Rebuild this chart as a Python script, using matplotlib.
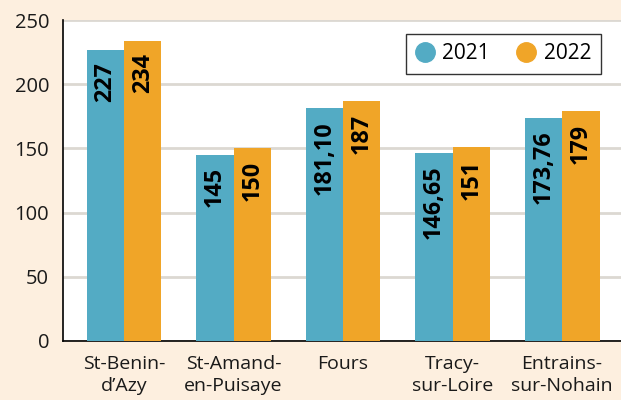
import numpy as np
import matplotlib.pyplot as plt
from matplotlib.lines import Line2D

communes = ["St-Benin-\nd\u2019Azy", "St-Amand-\nen-Puisaye", "Fours", "Tracy-\nsur-Loire", "Entrains-\nsur-Nohain"]
v2021 = [227, 145, 181.10, 146.65, 173.76]
v2022 = [234, 150, 187, 151, 179]
lab2021 = ["227", "145", "181,10", "146,65", "173,76"]
lab2022 = ["234", "150", "187", "151", "179"]

blue = "#53abc4"
orange = "#f0a528"
bg = "#fdefdf"

plt.rcParams['font.family'] = ['Open Sans', 'DejaVu Sans']

fig = plt.figure(figsize=(6.21, 4.0), dpi=100, facecolor=bg)
ax = fig.add_axes([0.1014, 0.1475, 0.8986, 0.8025])
ax.set_facecolor("white")

x = np.arange(len(communes))
w = 0.342
b1 = ax.bar(x - w/2, v2021, w, color=blue, label="2021", zorder=3)
b2 = ax.bar(x + w/2, v2022, w, color=orange, label="2022", zorder=3)

# valeurs écrites verticalement dans le haut des barres
for bars, labs in ((b1, lab2021), (b2, lab2022)):
    for r, t in zip(bars, labs):
        ax.annotate(t, (r.get_x() + r.get_width()/2, r.get_height()),
                    xytext=(0, -9), textcoords="offset points",
                    rotation=90, ha="center", va="top",
                    fontsize=16.8, fontweight="bold", color="black", zorder=4)

ax.set_ylim(0, 250)
ax.set_xlim(-0.557, 4.538)
ax.set_yticks([0, 50, 100, 150, 200, 250])
ax.set_xticks(x)
ax.set_xticklabels(communes, fontsize=14, linespacing=1.3)
ax.tick_params(axis="both", length=0, colors="#1a1a1a")
ax.tick_params(axis="y", pad=10, labelsize=14.5)
ax.tick_params(axis="x", pad=10)
ax.grid(axis="y", color="#dcd8d2", linewidth=2, zorder=0)
for s in ("top", "right"):
    ax.spines[s].set_visible(False)
ax.spines["left"].set_color("black")
ax.spines["bottom"].set_color("black")
ax.spines["left"].set_linewidth(1.2)
ax.spines["bottom"].set_linewidth(1.2)

handles = [Line2D([], [], marker="o", linestyle="", markersize=14, color=blue),
           Line2D([], [], marker="o", linestyle="", markersize=14, color=orange)]
leg = ax.legend(handles, ["2021", "2022"], loc="upper right", bbox_to_anchor=(0.964, 0.956), ncol=2,
                frameon=True, fancybox=False, fontsize=15,
                handlelength=0.9, columnspacing=1.3, handletextpad=0.4, borderpad=0.45,
                borderaxespad=0)
leg.get_frame().set_edgecolor("black")
leg.get_frame().set_linewidth(1.0)

fig.savefig("out.png", dpi=100, facecolor=bg)
